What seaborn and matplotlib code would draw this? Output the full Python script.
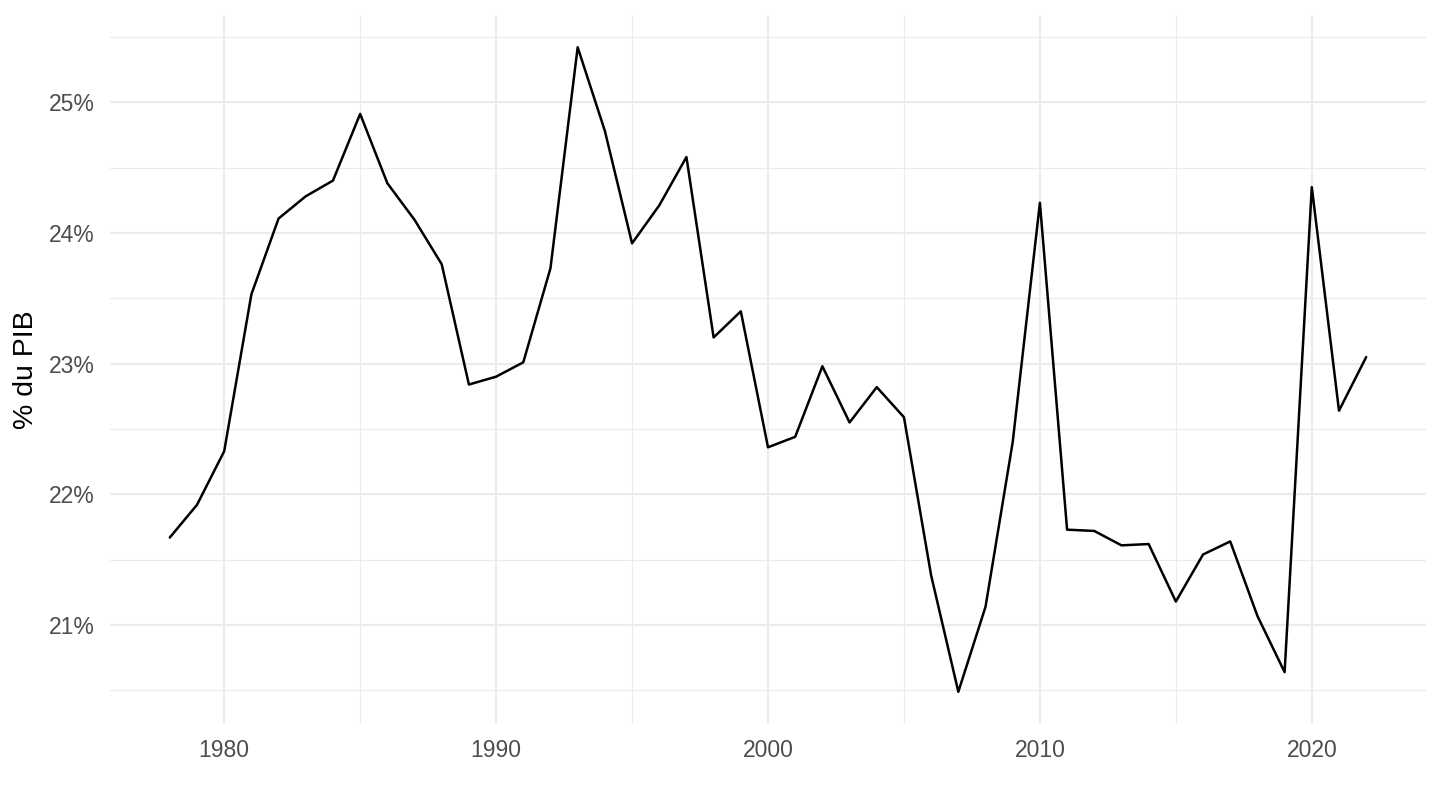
import pandas as pd
import seaborn as sns
import matplotlib.pyplot as plt
from matplotlib.ticker import MultipleLocator, FuncFormatter

# Data (% du PIB)
years = list(range(1978, 2023))
values = [21.67, 21.92, 22.33, 23.53, 24.11, 24.28, 24.40, 24.91, 24.38, 24.10,
          23.76, 22.84, 22.90, 23.01, 23.73, 25.42, 24.78, 23.92, 24.21, 24.58,
          23.20, 23.40, 22.36, 22.44, 22.98, 22.55, 22.82, 22.59, 21.38, 20.49,
          21.14, 22.40, 24.23, 21.73, 21.72, 21.61, 21.62, 21.18, 21.54, 21.64,
          21.07, 20.64, 24.35, 22.64, 23.05]

df = pd.DataFrame({"year": years, "value": values})

sns.set_theme(style="white")
plt.rcParams['font.family'] = ['Liberation Sans', 'DejaVu Sans']

fig, ax = plt.subplots(figsize=(14.4, 8.1), dpi=100)
fig.subplots_adjust(left=110/1440, right=1426/1440, top=1-15/810, bottom=1-724/810)

sns.lineplot(data=df, x="year", y="value", color="black", linewidth=1.8, ax=ax)

# ggplot-like expansion (5% each side)
xr = max(years) - min(years)
yr = max(values) - min(values)
ax.set_xlim(min(years) - 0.05 * xr, max(years) + 0.05 * xr)
ax.set_ylim(min(values) - 0.05 * yr, max(values) + 0.05 * yr)

ax.xaxis.set_major_locator(MultipleLocator(10))
ax.xaxis.set_minor_locator(MultipleLocator(5))
ax.yaxis.set_major_locator(MultipleLocator(1))
ax.yaxis.set_minor_locator(MultipleLocator(0.5))
ax.yaxis.set_major_formatter(FuncFormatter(lambda v, p: f"{v:.0f}%"))

ax.grid(which="major", color="#EBEBEB", linewidth=1.6)
ax.grid(which="minor", color="#EBEBEB", linewidth=0.8)
ax.set_axisbelow(True)
for s in ax.spines.values():
    s.set_visible(False)

ax.tick_params(which="both", length=0)
ax.tick_params(axis="x", labelsize=16.5, labelcolor="#4D4D4D", pad=11)
ax.tick_params(axis="y", labelsize=16.5, labelcolor="#4D4D4D", pad=11)

ax.set_xlabel("")
ax.set_ylabel("% du PIB", fontsize=20.5, color="black", labelpad=7)

fig.savefig("out.png", dpi=100)
